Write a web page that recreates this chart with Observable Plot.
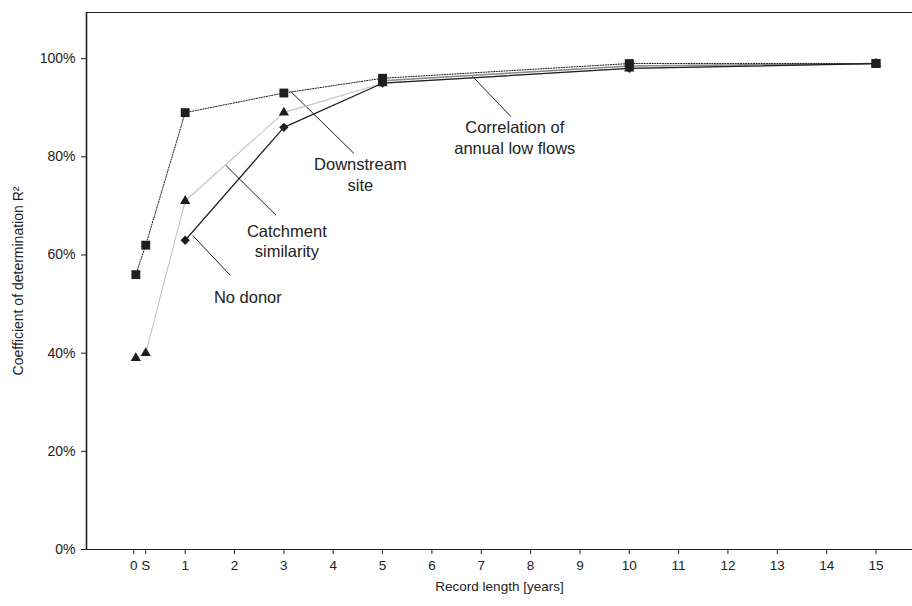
<!DOCTYPE html>
<html>
<head>
<meta charset="utf-8">
<script src="https://cdn.jsdelivr.net/npm/d3@7"></script>
<script src="https://cdn.jsdelivr.net/npm/@observablehq/plot@0.6"></script>
<style>
  html, body { margin: 0; padding: 0; background: #fff; }
  #chart { width: 912px; height: 606px; }
</style>
</head>
<body>
<div id="chart"></div>
<script>
// ---- data ----
const years = [0, 0.2, 1, 3, 5, 10, 15];          // 0.2 is the "S" position
const downstreamSite = [56, 62, 89, 93, 96, 99, 99];
const catchmentSimilarity = [39, 40, 71, 89, 95, 98, 99];
const noDonorYears = [1, 3, 5, 10, 15];
const noDonor = [63, 86, 95, 98, 99];
const correlationYears = [5, 10, 15];
const correlationLowFlows = [95.5, 98.5, 99];

const xTickValues = [0, 0.2, 1, 2, 3, 4, 5, 6, 7, 8, 9, 10, 11, 12, 13, 14, 15];
const xTickLabels = ["0", "S", "1", "2", "3", "4", "5", "6", "7", "8", "9", "10", "11", "12", "13", "14", "15"];
const yTickValues = [0, 20, 40, 60, 80, 100];

// annotation labels with leader lines (data units: years, %)
const labelText = ["Downstream\nsite", "Correlation of\nannual low flows", "Catchment\nsimilarity", "No donor"];
const labelX = [4.55, 7.68, 3.06, 2.27];
const labelY = [76.5, 84.1, 63.0, 51.5];
const leaderX1 = [3.14, 6.82, 1.82, 1.15];
const leaderY1 = [93.3, 96.4, 78.3, 64.0];
const leaderX2 = [4.42, 7.6, 2.84, 1.91];
const leaderY2 = [80.7, 88.2, 68.1, 55.9];

// ---- build tables ----
const dsRows = years.map((x, i) => ({x, y: downstreamSite[i]}));
const csRows = years.map((x, i) => ({x, y: catchmentSimilarity[i]}));
const ndRows = noDonorYears.map((x, i) => ({x, y: noDonor[i]}));
const coRows = correlationYears.map((x, i) => ({x, y: correlationLowFlows[i]}));
const labels = labelText.map((t, i) => ({t, x: labelX[i], y: labelY[i]}));
const leaders = labelText.map((t, i) => ({x1: leaderX1[i], y1: leaderY1[i], x2: leaderX2[i], y2: leaderY2[i]}));

const ink = "#1e1e1e";
const fmtX = d => xTickLabels[xTickValues.indexOf(d)];

const chart = Plot.plot({
  width: 912,
  height: 606,
  marginLeft: 86,
  marginRight: 0,
  marginTop: 12,
  marginBottom: 57,
  style: {fontFamily: "'Liberation Sans', Arial, sans-serif", fontSize: "14px", color: "#222", background: "#fff"},
  x: {domain: [-1, 15.74]},
  y: {domain: [0, 109.4]},
  marks: [
    Plot.axisX({ticks: xTickValues.slice(1), tickFormat: fmtX, tickSize: 5, tickPadding: 6,
      label: "Record length [years]", labelAnchor: "center", labelArrow: "none", labelOffset: 41, fontSize: 13.5}),
    Plot.axisX({ticks: xTickValues.slice(0, 1), tickFormat: fmtX, tickSize: 5, tickPadding: 6, dx: -2,
      label: null, fontSize: 13.5}),
    Plot.axisY({ticks: yTickValues, tickFormat: d => d + "%", tickSize: 5, tickPadding: 6,
      label: "Coefficient of determination R²", labelAnchor: "center", labelArrow: "none", labelOffset: 73, fontSize: 14}),
    Plot.ruleY([0], {stroke: ink, strokeWidth: 1}),
    Plot.ruleY([109.4], {stroke: ink, strokeWidth: 1}),
    Plot.ruleX([-1], {stroke: ink, strokeWidth: 1.6}),
    // leader lines
    Plot.link(leaders, {x1: "x1", y1: "y1", x2: "x2", y2: "y2", stroke: ink, strokeWidth: 1}),
    // series lines
    Plot.line(csRows, {x: "x", y: "y", stroke: "#c4c4c4", strokeWidth: 1.1}),
    Plot.line(coRows, {x: "x", y: "y", stroke: "#8a8a8a", strokeWidth: 1.6, strokeDasharray: "1,1"}),
    Plot.line(ndRows, {x: "x", y: "y", stroke: ink, strokeWidth: 1.2}),
    Plot.line(dsRows, {x: "x", y: "y", stroke: ink, strokeWidth: 1, strokeDasharray: "1.2,1.4"}),
    // markers
    Plot.dot(csRows, {x: "x", y: "y", symbol: "triangle", r: 3.8, fill: ink, stroke: "none"}),
    Plot.dot(ndRows, {x: "x", y: "y", symbol: "diamond2", r: 4.2, fill: ink, stroke: "none"}),
    Plot.dot(coRows, {x: "x", y: "y", symbol: "square", r: 5, fill: ink, stroke: "none"}),
    Plot.dot(dsRows, {x: "x", y: "y", symbol: "square", r: 5, fill: ink, stroke: "none"}),
    // annotation text
    Plot.text(labels, {x: "x", y: "y", text: "t", fontSize: 16.5, fill: "#222", lineHeight: 1.25, textAnchor: "middle"})
  ]
});

document.getElementById("chart").appendChild(chart);
</script>
</body>
</html>
